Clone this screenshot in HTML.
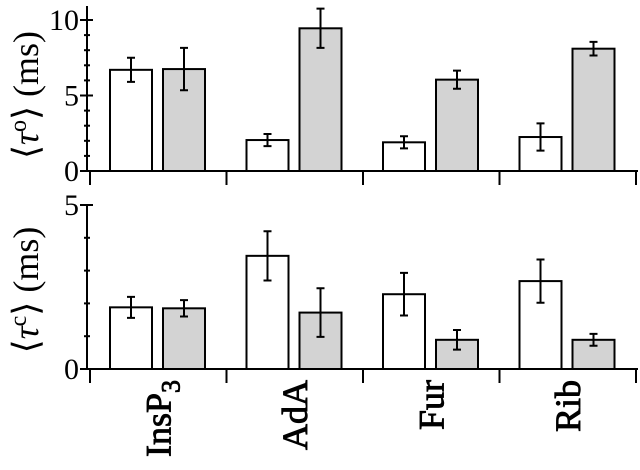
<!DOCTYPE html>
<html><head><meta charset="utf-8"><style>
html,body{margin:0;padding:0;background:#fff;}
svg, svg text{font-family:"Liberation Serif","Times New Roman",serif;}
svg{display:block;}
</style></head><body>
<svg id="chart" width="640" height="470" viewBox="0 0 640 470" xmlns="http://www.w3.org/2000/svg" font-family="Liberation Serif, serif"></svg>
<script>
const categories = ["InsP3","AdA","Fur","Rib"];
const openWhite = [6.7, 2.05, 1.9, 2.25];
const openWhiteErr = [0.8, 0.4, 0.4, 0.9];
const openGray = [6.75, 9.45, 6.05, 8.1];
const openGrayErr = [1.4, 1.3, 0.6, 0.45];
const closedWhite = [1.88, 3.45, 2.28, 2.68];
const closedWhiteErr = [0.32, 0.75, 0.65, 0.66];
const closedGray = [1.85, 1.72, 0.89, 0.89];
const closedGrayErr = [0.25, 0.74, 0.3, 0.18];
const topTicks = ["0","5","10"];
const bottomTicks = ["0","5"];

const svg = document.getElementById('chart');
const NS = "http://www.w3.org/2000/svg";
const FF = '"Liberation Serif", serif';
function mk(tag, attrs, parent){
  const e = document.createElementNS(NS, tag);
  for (const k in attrs) e.setAttribute(k, attrs[k]);
  if (tag === 'text') e.style.fontFamily = FF;
  (parent||svg).appendChild(e);
  return e;
}
const axX = 87;
const groupW = 136.5, groupX0 = 90;
function xBand(i){ return groupX0 + groupW*i; }

function panel(cfg){
  const y = v => cfg.zero - v*cfg.scale;
  const g = mk('g', {});
  
  
  const series = [[cfg.w, cfg.we, '#fff', 20], [cfg.gr, cfg.ge, '#d3d3d3', 73]];
  series.forEach((s, si) => {
    s[0].forEach((v, i) => {
      const x = xBand(i) + s[3];
      const r = mk('rect', {x:x, y:y(v), width:42, height:cfg.zero - y(v), fill:s[2], stroke:'#000', 'stroke-width':2}, g);
      
      
      const cx = x + 21, e = s[1][i];
      const eb = mk('path', {d:`M${cx},${y(v+e)}V${y(v-e)}M${cx-4},${y(v+e)}H${cx+4}M${cx-4},${y(v-e)}H${cx+4}`, stroke:'#000', 'stroke-width':2, fill:'none'}, g);
      
      
    });
  });
  const ya = mk('line', {x1:axX, y1:cfg.axTop, x2:axX, y2:cfg.zero, stroke:'#000', 'stroke-width':2}, g);
  
  
  for (let v = 0; v <= cfg.max; v++) {
    const major = v % 5 === 0;
    mk('line', {x1: major ? axX-7 : axX-3, x2: major ? axX+6 : axX+3, y1:y(v), y2:y(v), stroke:'#000', 'stroke-width':2}, g);
  }
  cfg.ticks.forEach(t => {
    const tx = mk('text', {x:axX-8, y:y(+t)+10, 'text-anchor':'end', 'font-size':30}, g);
    tx.textContent = t;
    
    
  });
  const xa = mk('line', {x1:axX, y1:cfg.zero, x2:638, y2:cfg.zero, stroke:'#000', 'stroke-width':2}, g);
  
  
  for (let i = 0; i <= categories.length; i++) {
    mk('line', {x1:xBand(i), x2:xBand(i), y1:cfg.zero, y2:cfg.zero+14, stroke:'#000', 'stroke-width':2}, g);
  }
  const t = mk('text', {transform:`translate(38,${cfg.titleY}) rotate(-90)`, 'text-anchor':'middle', 'font-size':36}, g);
  t.innerHTML = '⟨<tspan font-style="italic">τ</tspan><tspan dy="-12" font-size="24">' + cfg.sup + '</tspan><tspan dy="12">⟩ (ms)</tspan>';
  
  
}
panel({name:'open-time-panel', zero:171, scale:15.1, max:10, axTop:6, ticks:topTicks, w:openWhite, we:openWhiteErr, gr:openGray, ge:openGrayErr, sup:'o', titleY:95});
panel({name:'closed-time-panel', zero:369, scale:32.8, max:5, axTop:204, ticks:bottomTicks, w:closedWhite, we:closedWhiteErr, gr:closedGray, ge:closedGrayErr, sup:'c', titleY:290});

categories.forEach((c, i) => {
  const cx = xBand(i) + groupW/2 + 12;
  const t = mk('text', {transform:`translate(${cx},380) rotate(-90)`, 'text-anchor':'end', 'font-size':36, stroke:'#000', 'stroke-width':0.9});
  if (c === 'InsP3') t.innerHTML = 'InsP<tspan dy="9" font-size="26">3</tspan>';
  else t.textContent = c;
  
  
});
</script>
</body></html>
